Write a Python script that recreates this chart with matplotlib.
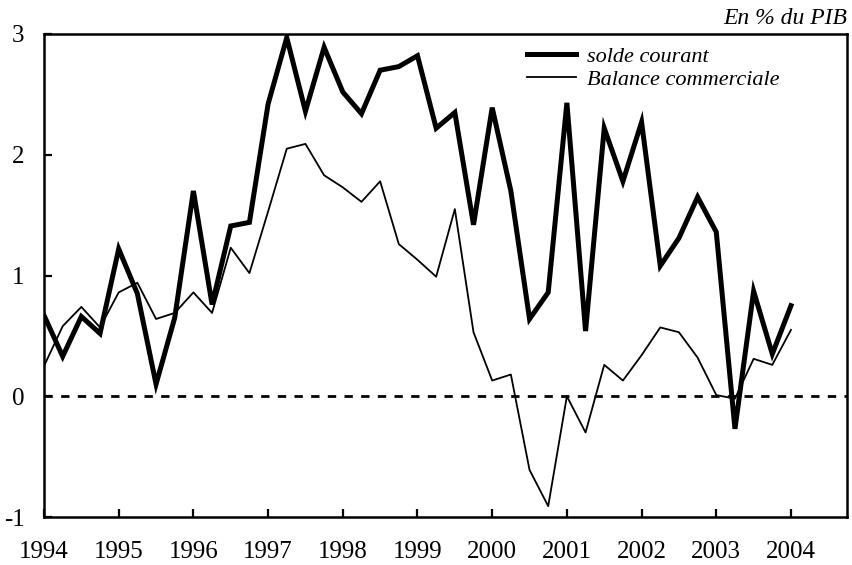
import numpy as np
import matplotlib
matplotlib.use("Agg")
import matplotlib.pyplot as plt
from matplotlib.lines import Line2D

# Quarterly data, 1994 Q1 to 2004 Q1, in % of GDP
quarters = np.arange(1994, 2004.01, 0.25)

solde_courant = [
    0.67, 0.33, 0.66, 0.52, 1.22, 0.85, 0.10, 0.65, 1.70, 0.76,
    1.41, 1.44, 2.42, 2.97, 2.36, 2.89, 2.52, 2.34, 2.70, 2.73,
    2.82, 2.22, 2.35, 1.42, 2.39, 1.70, 0.64, 0.86, 2.43, 0.54,
    2.22, 1.78, 2.27, 1.08, 1.31, 1.65, 1.36, -0.27, 0.87, 0.35,
    0.75,
]
balance_commerciale = [
    0.25, 0.58, 0.74, 0.57, 0.86, 0.94, 0.64, 0.69, 0.86, 0.69,
    1.23, 1.02, 1.53, 2.05, 2.09, 1.83, 1.73, 1.61, 1.78, 1.26,
    1.13, 0.99, 1.55, 0.53, 0.13, 0.18, -0.61, -0.91, 0.00, -0.30,
    0.26, 0.13, 0.34, 0.57, 0.53, 0.32, 0.01, -0.02, 0.31, 0.26,
    0.55,
]
year_ticks = list(range(1994, 2005))
y_ticks = [-1, 0, 1, 2, 3]

plt.rcParams["font.family"] = ["Liberation Serif", "DejaVu Serif"]

fig = plt.figure(figsize=(8.53, 5.65), dpi=100)
ax = fig.add_axes([44 / 853, 1 - 517 / 565, (847 - 44) / 853, (517 - 34) / 565])

ax.axhline(0, color="black", lw=2.0, ls=(0, (3, 3)), zorder=1)
ax.plot(quarters, solde_courant, color="black", lw=3.6, solid_joinstyle="miter",
        zorder=3)
ax.plot(quarters, balance_commerciale, color="black", lw=1.3, zorder=2)

ax.set_xlim(1994, 2004.75)
ax.set_ylim(-1, 3)
ax.set_xticks(year_ticks)
ax.set_xticklabels([str(y) for y in year_ticks])
ax.set_yticks(y_ticks)
ax.set_yticklabels([str(v) for v in y_ticks])
ax.tick_params(axis="both", direction="in", length=6, width=1.6, labelsize=18)
ax.tick_params(axis="x", pad=17)
ax.tick_params(axis="y", pad=14)
for side in ax.spines.values():
    side.set_linewidth(1.8)

handles = [
    Line2D([], [], color="black", lw=3.6),
    Line2D([], [], color="black", lw=1.3),
]
ax.legend(handles, ["solde courant", "Balance commerciale"],
          loc="upper left", bbox_to_anchor=(0.586, 1.0), frameon=False,
          prop={"style": "italic", "size": 16}, handlelength=2.2,
          handletextpad=0.5, labelspacing=0.1, borderaxespad=0.15)

fig.text(847 / 853, 1 - 18 / 565, "En % du PIB", ha="right", va="center",
         fontsize=17, style="italic")

fig.savefig("out.png", dpi=100)
